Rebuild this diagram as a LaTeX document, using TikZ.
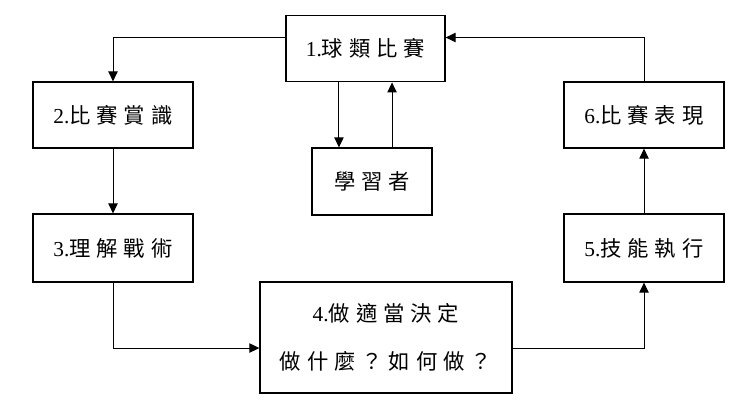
\documentclass[tikz,border=0pt]{standalone}
\usepackage{fontspec}
\setmainfont{Liberation Serif}
\newfontfamily\cjk[LetterSpace=28]{Noto Sans CJK TC}
\usetikzlibrary{arrows.meta,calc}

\begin{document}
\begin{tikzpicture}[x=0.75pt,y=-0.75pt,>={Triangle[length=7.5pt,width=7pt]},line join=miter,
  box/.style={draw,line width=0.9pt,inner sep=0pt,minimum width=120pt,minimum height=50pt,
    font=\fontsize{16}{36}\selectfont,align=center},
  link/.style={->,line width=0.75pt}]
  \useasboundingbox (0,0) rectangle (755,401);
  \node[box,minimum width=119.25pt] (b1) at (365.5,48.5) {1.\cjk 球類比賽};
  \node[box,minimum height=49.5pt] (b2) at (113,115) {2.\cjk 比賽賞識};
  \node[box,minimum height=51pt] (b3) at (113,248) {3.\cjk 理解戰術};
  \node[box,minimum width=189pt,minimum height=83.25pt] (b4) at (386,337.5)
    {4.\cjk 做適當決定\\\cjk 做什麼？如何做？};
  \node[box,minimum height=51pt] (b5) at (644,248) {5.\cjk 技能執行};
  \node[box,minimum height=49.5pt] (b6) at (644,115) {6.\cjk 比賽表現};
  \node[box,minimum width=90pt,minimum height=50.25pt] (lrn) at (372,181.5) {\cjk 學習者};
  \draw[link] ([yshift=8.25pt]b1.west) -| (b2.north);
  \draw[link] (b2.south) -- (b3.north);
  \draw[link] (b3.south) |- ([yshift=-7.9pt]b4.west);
  \draw[link] ([yshift=-7.9pt]b4.east) -| (b5.south);
  \draw[link] (b5.north) -- (b6.south);
  \draw[link] (b6.north) |- ([yshift=8.25pt]b1.east);
  \coordinate (dn) at ([xshift=-19.9pt]b1.south);
  \coordinate (up) at ([xshift=19.9pt]b1.south);
  \draw[link] (dn) -- (dn |- lrn.north);
  \draw[link] (up |- lrn.north) -- (up);
\end{tikzpicture}
\end{document}
